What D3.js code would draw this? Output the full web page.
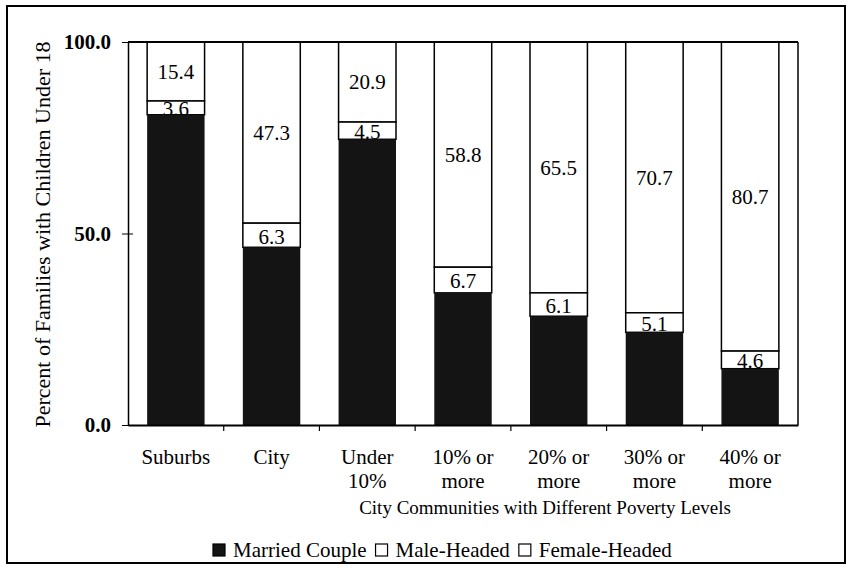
<!DOCTYPE html>
<html>
<head>
<meta charset="utf-8">
<script src="https://cdn.jsdelivr.net/npm/d3@7"></script>
<style>
  body { margin: 0; background: #fff; }
  svg { display: block; font-family: "Liberation Serif", "Times New Roman", serif; }
  .axis path, .axis line { stroke: #000; }
  .axis text { fill: #000; }
</style>
</head>
<body>
<svg id="chart"></svg>
<script>
var categories = ["Suburbs", "City", "Under 10%", "10% or more", "20% or more", "30% or more", "40% or more"];
var categoryLines = [["Suburbs"], ["City"], ["Under", "10%"], ["10% or", "more"], ["20% or", "more"], ["30% or", "more"], ["40% or", "more"]];
var married = [81.0, 46.4, 74.6, 34.5, 28.4, 24.2, 14.7];
var maleHeaded = [3.6, 6.3, 4.5, 6.7, 6.1, 5.1, 4.6];
var femaleHeaded = [15.4, 47.3, 20.9, 58.8, 65.5, 70.7, 80.7];
var yTicks = [0, 50, 100];
var legendLabels = ["Married Couple", "Male-Headed", "Female-Headed"];

(function () {
    var WIDTH = 856, HEIGHT = 573;
    var PLOT_LEFT = 128, PLOT_RIGHT = 798, PLOT_TOP = 42, PLOT_BOTTOM = 425;
    var DARK = "#141414";

    var xScale = d3.scaleBand().domain(categories).range([PLOT_LEFT, PLOT_RIGHT])
        .paddingInner(0.4).paddingOuter(0.2);
    var yScale = d3.scaleLinear().domain([0, 100]).range([PLOT_BOTTOM, PLOT_TOP]);

    var svg = d3.select("#chart").attr("width", WIDTH).attr("height", HEIGHT);

    // outer frame of the figure
    svg.append("rect").attr("x", 7).attr("y", 6).attr("width", 838).attr("height", 557)
        .attr("fill", "none").attr("stroke", "#000").attr("stroke-width", 2);

    function drawBars() {
        var rows = categories.map(function (c, i) {
            return {cat: c, married: married[i], male: maleHeaded[i], female: femaleHeaded[i]};
        });
        var g = svg.append("g");
        var bw = xScale.bandwidth();

        // female-headed on top, reaching up to 100
        g.selectAll(".female").data(rows).enter().append("rect")
            .attr("x", function (d) { return xScale(d.cat); })
            .attr("width", bw)
            .attr("y", function (d) { return yScale(d.married + d.male + d.female); })
            .attr("height", function (d) { return yScale(d.married + d.male) - yScale(d.married + d.male + d.female); })
            .attr("fill", "#fff").attr("stroke", "#000").attr("stroke-width", 1.5);
        g.selectAll(".female-label").data(rows).enter().append("text")
            .attr("x", function (d) { return xScale(d.cat) + bw / 2; })
            .attr("y", function (d) { return yScale(d.married + d.male + d.female / 2); })
            .attr("dy", "0.35em").attr("text-anchor", "middle").attr("font-size", 21)
            .text(function (d) { return d.female.toFixed(1); });

        g.selectAll(".male").data(rows).enter().append("rect")
            .attr("x", function (d) { return xScale(d.cat); })
            .attr("width", bw)
            .attr("y", function (d) { return yScale(d.married + d.male); })
            .attr("height", function (d) { return yScale(d.married) - yScale(d.married + d.male); })
            .attr("fill", "#fff").attr("stroke", "#000").attr("stroke-width", 1.5);
        g.selectAll(".male-label").data(rows).enter().append("text")
            .attr("x", function (d) { return xScale(d.cat) + bw / 2; })
            .attr("y", function (d) { return yScale(d.married + d.male / 2); })
            .attr("dy", "0.4em").attr("text-anchor", "middle").attr("font-size", 21)
            .text(function (d) { return d.male.toFixed(1); });

        // married couple drawn last so it clips the small labels like the print
        g.selectAll(".married").data(rows).enter().append("rect")
            .attr("x", function (d) { return xScale(d.cat); })
            .attr("width", bw)
            .attr("y", function (d) { return yScale(d.married); })
            .attr("height", function (d) { return yScale(0) - yScale(d.married); })
            .attr("fill", DARK);
    }

    function drawAxes() {
        // plot box top and right edges
        svg.append("line").attr("x1", PLOT_LEFT).attr("x2", PLOT_RIGHT)
            .attr("y1", PLOT_TOP).attr("y2", PLOT_TOP).attr("stroke", "#000").attr("stroke-width", 2);
        svg.append("line").attr("x1", PLOT_RIGHT).attr("x2", PLOT_RIGHT)
            .attr("y1", PLOT_TOP).attr("y2", PLOT_BOTTOM).attr("stroke", "#000").attr("stroke-width", 1.5);

        var yAxis = d3.axisLeft(yScale).tickValues(yTicks).tickFormat(d3.format(".1f"))
            .tickSize(6).tickSizeOuter(0).tickPadding(11);
        var ya = svg.append("g").attr("class", "axis")
            .attr("transform", "translate(" + PLOT_LEFT + ",0)")
            .call(yAxis)
            .attr("font-family", null).attr("font-size", 21).attr("font-weight", "bold");
        ya.select(".domain").attr("stroke-width", 1.5);
        ya.selectAll(".tick line").attr("x1", 5);

        var xAxis = d3.axisBottom(xScale).tickSize(0).tickSizeOuter(0).tickPadding(0);
        var xa = svg.append("g").attr("class", "axis")
            .attr("transform", "translate(0," + PLOT_BOTTOM + ")")
            .call(xAxis)
            .attr("font-family", null).attr("font-size", 21);
        xa.select(".domain").attr("stroke-width", 2);
        xa.selectAll(".tick text")
            .attr("y", 0).attr("dy", null)
            .text(null)
            .each(function (d, i) {
                var t = d3.select(this);
                categoryLines[i].forEach(function (line, k) {
                    t.append("tspan").attr("x", 0).attr("y", 39 + k * 24).text(line);
                });
            });

        // tick marks between categories
        var step = xScale.step();
        var bounds = categories.slice(1).map(function (c) {
            return xScale(c) - step * xScale.paddingInner() / 2;
        });
        svg.append("g").selectAll("line").data(bounds).enter().append("line")
            .attr("x1", function (d) { return d; }).attr("x2", function (d) { return d; })
            .attr("y1", PLOT_BOTTOM).attr("y2", PLOT_BOTTOM + 6)
            .attr("stroke", "#000").attr("stroke-width", 1.2);

        svg.append("text")
            .attr("transform", "translate(50," + ((PLOT_TOP + PLOT_BOTTOM) / 2 + 1) + ") rotate(-90)")
            .attr("text-anchor", "middle").attr("font-size", 22)
            .text("Percent of Families with Children Under 18");

        svg.append("text").attr("x", 545).attr("y", 514)
            .attr("text-anchor", "middle").attr("font-size", 19)
            .text("City Communities with Different Poverty Levels");
    }

    function drawLegend() {
        var fills = [DARK, "#fff", "#fff"];
        var x = 213, y = 550;
        legendLabels.forEach(function (label, i) {
            svg.append("rect").attr("x", x).attr("y", y - 6).attr("width", 12).attr("height", 12)
                .attr("fill", fills[i]).attr("stroke", "#000").attr("stroke-width", 1.2);
            var t = svg.append("text").attr("x", x + 20).attr("y", y).attr("dy", "0.35em")
                .attr("font-size", 21).text(label);
            x = x + 20 + t.node().getComputedTextLength() + 9;
        });
    }

    drawBars();
    drawAxes();
    drawLegend();
}());
</script>
</body>
</html>
